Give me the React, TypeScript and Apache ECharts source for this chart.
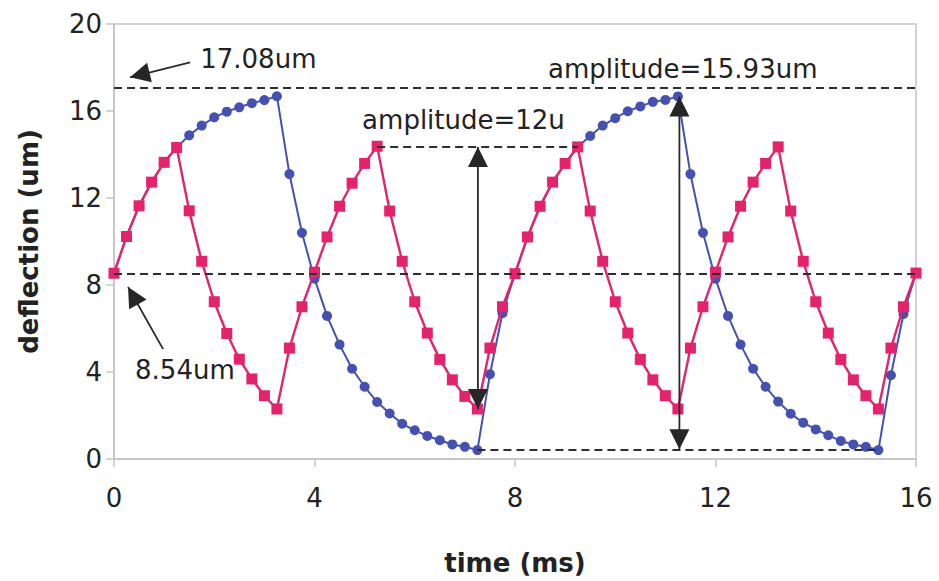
import React, { useEffect, useRef } from "react";
import * as echarts from "echarts";

// ---- data ----
const timeMs = [
  0, 0.25, 0.5, 0.75, 1, 1.25, 1.5, 1.75, 2, 2.25, 2.5, 2.75, 3, 3.25, 3.5, 3.75,
  4, 4.25, 4.5, 4.75, 5, 5.25, 5.5, 5.75, 6, 6.25, 6.5, 6.75, 7, 7.25, 7.5, 7.75,
  8, 8.25, 8.5, 8.75, 9, 9.25, 9.5, 9.75, 10, 10.25, 10.5, 10.75, 11, 11.25, 11.5, 11.75,
  12, 12.25, 12.5, 12.75, 13, 13.25, 13.5, 13.75, 14, 14.25, 14.5, 14.75, 15, 15.25, 15.5, 15.75,
  16,
];

// square markers (4 ms period)
const squareDeflection = [
  8.54, 10.23, 11.64, 12.73, 13.64, 14.32, 11.41, 9.09, 7.23, 5.77, 4.59, 3.68, 2.91, 2.3, 5.1, 7.0,
  8.59, 10.21, 11.62, 12.68, 13.59, 14.38, 11.4, 9.09, 7.23, 5.79, 4.58, 3.64, 2.88, 2.3, 5.1, 7.0,
  8.52, 10.21, 11.62, 12.73, 13.59, 14.35, 11.4, 9.09, 7.23, 5.79, 4.58, 3.64, 2.91, 2.3, 5.1, 7.0,
  8.59, 10.21, 11.62, 12.73, 13.59, 14.35, 11.4, 9.09, 7.23, 5.79, 4.58, 3.64, 2.91, 2.3, 5.1, 7.0,
  8.55,
];

// circle markers (8 ms period)
const circleDeflection = [
  8.54, 10.23, 11.64, 12.73, 13.64, 14.32, 14.88, 15.33, 15.71, 15.97, 16.17, 16.36, 16.5, 16.68, 13.1, 10.4,
  8.29, 6.58, 5.26, 4.15, 3.32, 2.62, 2.09, 1.62, 1.32, 1.06, 0.86, 0.67, 0.56, 0.41, 3.9, 6.7,
  8.52, 10.21, 11.62, 12.73, 13.59, 14.35, 14.85, 15.33, 15.67, 15.99, 16.21, 16.42, 16.51, 16.67, 13.1, 10.4,
  8.29, 6.58, 5.26, 4.15, 3.32, 2.64, 2.08, 1.67, 1.36, 1.09, 0.83, 0.67, 0.56, 0.41, 3.85, 6.67,
  8.55,
];

const xTickValues = [0, 4, 8, 12, 16];
const yTickValues = [0, 4, 8, 12, 16, 20];

// reference (dashed) levels: [level, from time, to time]
const dashedLevels = [
  [17.08, 0, 16],
  [8.54, 0, 16],
  [14.35, 5.25, 9.25],
  [0.41, 7.25, 15.25],
];

// arrows in data coordinates: from, to, heads at start / end
const arrowList = [
  { from: [7.26, 14.35], to: [7.26, 2.3], both: true },
  { from: [11.28, 16.67], to: [11.28, 0.45], both: true },
  { from: [1.52, 18.23], to: [0.32, 17.55], both: false },
  { from: [0.98, 5.05], to: [0.28, 7.91], both: false },
];

// annotation texts, anchored (left, middle) in data coordinates
const noteTexts = [
  { text: "17.08um", at: [1.72, 18.41] },
  { text: "amplitude=15.93um", at: [8.66, 17.91] },
  { text: "amplitude=12u", at: [4.95, 15.59] },
  { text: "8.54um", at: [0.42, 4.09] },
];

const PINK = "#E3236C";
const BLUE = "#4451B0";
const FONT = "DejaVu Sans";

export default function App() {
  const ref = useRef<HTMLDivElement>(null);

  useEffect(() => {
    document.body.style.margin = "0";
    if (!ref.current) return;
    const chart = echarts.init(ref.current, null, { renderer: "svg" });

    const option: any = {
      animation: false,
      backgroundColor: "#ffffff",
      grid: {
        left: 114,
        right: 23,
        top: 24,
        bottom: 117,
        show: true,
        borderColor: "#c4c4c4",
        borderWidth: 1.5,
        backgroundColor: "transparent",
      },
      xAxis: {
        type: "value",
        min: 0,
        max: 16,
        interval: 4,
        name: "time (ms)",
        nameLocation: "middle",
        nameGap: 91,
        nameTextStyle: { fontFamily: FONT, fontSize: 26, fontWeight: "bold", color: "#222" },
        axisLine: { show: true, lineStyle: { color: "#c4c4c4", width: 1.5 } },
        axisTick: { show: true, length: 8, lineStyle: { color: "#c4c4c4", width: 1.5 } },
        axisLabel: {
          margin: 26,
          fontFamily: FONT,
          fontSize: 26,
          color: "#222",
          customValues: xTickValues,
        },
        splitLine: { show: false },
      },
      yAxis: {
        type: "value",
        min: 0,
        max: 20,
        interval: 4,
        name: "deflection (um)",
        nameLocation: "middle",
        nameGap: 72,
        nameTextStyle: { fontFamily: FONT, fontSize: 26, fontWeight: "bold", color: "#222" },
        axisLine: { show: true, lineStyle: { color: "#c4c4c4", width: 1.5 } },
        axisTick: { show: true, length: 8, lineStyle: { color: "#c4c4c4", width: 1.5 } },
        axisLabel: {
          margin: 12,
          fontFamily: FONT,
          fontSize: 26,
          color: "#222",
          customValues: yTickValues,
        },
        splitLine: { show: false },
      },
      series: [
        {
          name: "circles",
          type: "line",
          data: timeMs.map((t, i) => [t, circleDeflection[i]]),
          symbol: "circle",
          symbolSize: 10,
          lineStyle: { color: BLUE, width: 2 },
          itemStyle: { color: BLUE },
          z: 2,
          markLine: {
            silent: true,
            symbol: ["none", "none"],
            label: { show: false },
            lineStyle: { color: "#2e2e2e", width: 1.8, type: [8, 5] },
            data: dashedLevels.map(([lv, a, b]) => [{ coord: [a, lv] }, { coord: [b, lv] }]),
          },
        },
        {
          name: "squares",
          type: "line",
          data: timeMs.map((t, i) => [t, squareDeflection[i]]),
          symbol: "rect",
          symbolSize: 11,
          lineStyle: { color: PINK, width: 2.4 },
          itemStyle: { color: PINK },
          z: 3,
        },
      ],
    };
    chart.setOption(option);

    const px = (p: number[]) => chart.convertToPixel({ gridIndex: 0 }, p) as number[];
    const graphics: any[] = [];
    const headLen = 20;
    const headW = 20;
    const addHead = (tip: number[], tail: number[]) => {
      const dx = tip[0] - tail[0];
      const dy = tip[1] - tail[1];
      const L = Math.sqrt(dx * dx + dy * dy) || 1;
      const ux = dx / L;
      const uy = dy / L;
      const bx = tip[0] - ux * headLen;
      const by = tip[1] - uy * headLen;
      graphics.push({
        type: "polygon",
        z: 20,
        shape: {
          points: [
            [tip[0], tip[1]],
            [bx - uy * (headW / 2), by + ux * (headW / 2)],
            [bx + uy * (headW / 2), by - ux * (headW / 2)],
          ],
        },
        style: { fill: "#262626" },
      });
    };
    arrowList.forEach((a) => {
      const p1 = px(a.from);
      const p2 = px(a.to);
      graphics.push({
        type: "line",
        z: 19,
        shape: { x1: p1[0], y1: p1[1], x2: p2[0], y2: p2[1] },
        style: { stroke: "#2a2a2a", lineWidth: 1.8 },
      });
      addHead(p2, p1);
      if (a.both) addHead(p1, p2);
    });
    noteTexts.forEach((n) => {
      const p = px(n.at);
      graphics.push({
        type: "text",
        z: 21,
        x: p[0],
        y: p[1],
        style: {
          text: n.text,
          fill: "#222",
          fontFamily: FONT,
          fontSize: 26,
          align: "left",
          verticalAlign: "middle",
          textAlign: "left",
          textVerticalAlign: "middle",
        },
      });
    });
    chart.setOption({ graphic: graphics });

    return () => chart.dispose();
  }, []);

  return <div ref={ref} style={{ width: 939, height: 581 }} />;
}
